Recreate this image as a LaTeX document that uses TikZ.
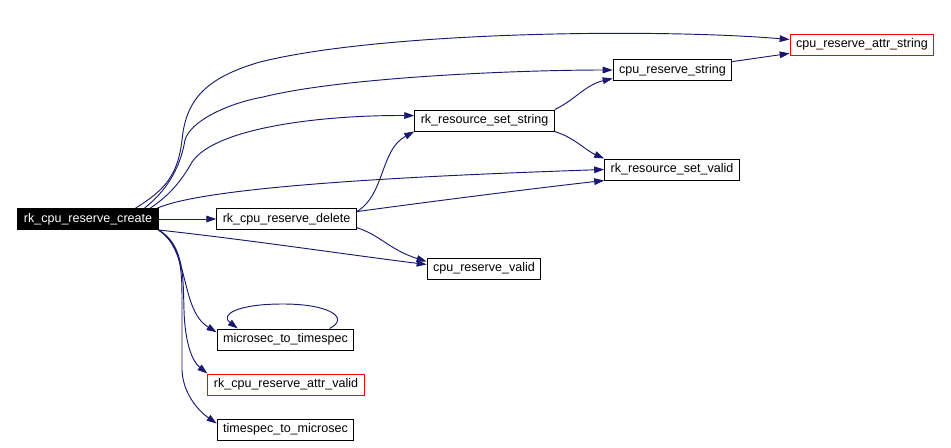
\documentclass[tikz,border=0pt]{standalone}
\usepackage{fontspec}
\setmainfont{Liberation Sans}
\usetikzlibrary{arrows.meta}

\definecolor{edgeblue}{RGB}{25,25,112}

\begin{document}
\begin{tikzpicture}[x=0.75pt,y=-0.75pt]
    \tikzstyle{Edge} = [
            draw=edgeblue,
            line width=0.7pt,
            -{Triangle[length=7.5pt,width=5pt]}
    ];
    \tikzstyle{Func} = [
            draw=black,
            line width=0.75pt,
            rectangle,
            inner xsep=4.5pt,
            inner ysep=0pt,
            minimum height=15.75pt,
            font={\fontsize{9.4}{11}\selectfont}
    ];
    \tikzstyle{FuncRoot} = [
            Func,
            fill=black,
            text=white
    ];
    \tikzstyle{FuncMissing} = [
            Func,
            draw=red
    ];

    \useasboundingbox (0,0) rectangle (951,447);

    \node[FuncRoot,    name=Create]     at (88,219)    {rk\_cpu\_reserve\_create};
    \node[Func,        name=Delete]     at (286.5,219) {rk\_cpu\_reserve\_delete};
    \node[Func,        name=MicroTs]    at (285.5,339.5) {microsec\_to\_timespec};
    \node[FuncMissing, name=AttrValid]  at (286,384.5) {rk\_cpu\_reserve\_attr\_valid};
    \node[Func,        name=TsMicro]    at (285.5,429.5) {timespec\_to\_microsec};
    \node[Func,        name=CpuValid]   at (484,268.5) {cpu\_reserve\_valid};
    \node[Func,        name=SetString]  at (484.5,120.5) {rk\_resource\_set\_string};
    \node[Func,        name=SetValid]   at (672,169.5) {rk\_resource\_set\_valid};
    \node[Func,        name=CpuString]  at (672.5,70)  {cpu\_reserve\_string};
    \node[FuncMissing, name=AttrString] at (862,44.5)  {cpu\_reserve\_attr\_string};

    % straight calls
    \path (Create)       edge [Edge] (Delete)
          (CpuString.8)  edge [Edge] (AttrString.187);

    % calls from rk_cpu_reserve_create
    \draw[Edge] (Create.13) .. controls (165,190) and (178,175) .. (182,140)
                .. controls (186,100) and (205,78) .. (260,62)
                .. controls (380,32) and (650,28) .. (AttrString.176);
    \draw[Edge] (Create.11) .. controls (165,192) and (180,170) .. (185,140)
                .. controls (190,122) and (225,104) .. (263,97)
                .. controls (343,77) and (520,70) .. (CpuString.west);
    \draw[Edge] (Create.10) .. controls (170,195) and (182,180) .. (192,162)
                .. controls (215,128) and (320,115) .. (SetString.176);
    \draw[Edge] (Create.9) .. controls (200,190) and (350,178) .. (SetValid.west);
    \draw[Edge] (Create.south east) .. controls (250,240) and (350,255) .. (CpuValid.176);
    \draw[Edge] (Create.south east) .. controls (190,250) and (180,310) .. (MicroTs.174);
    \draw[Edge] (Create.south east) .. controls (185,245) and (183,280) .. (184,310)
                .. controls (185,345) and (193,362) .. (AttrValid.north west);
    \draw[Edge] (Create.south east) .. controls (180,245) and (182,265) .. (182,300)
                -- (182,370) .. controls (183,395) and (200,412) .. (TsMicro.175);

    % calls from rk_cpu_reserve_delete
    \draw[Edge] (Delete.6) .. controls (385,195) and (380,150) .. (SetString.south west);
    \draw[Edge] (Delete.6) .. controls (420,203) and (520,190) .. (SetValid.south west);
    \draw[Edge] (Delete.-7) .. controls (380,235) and (390,250) .. (CpuValid.173);

    % calls from rk_resource_set_string
    \draw[Edge] (SetString.north east) .. controls (575,100) and (585,85) .. (CpuString.188);
    \draw[Edge] (SetString.south east) .. controls (575,138) and (585,150) .. (SetValid.north west);

    % recursion
    \draw[Edge] (MicroTs.14) .. controls (350,318) and (330,304) .. (283,304)
                .. controls (236,304) and (220,315) .. (MicroTs.167);
\end{tikzpicture}
\end{document}
